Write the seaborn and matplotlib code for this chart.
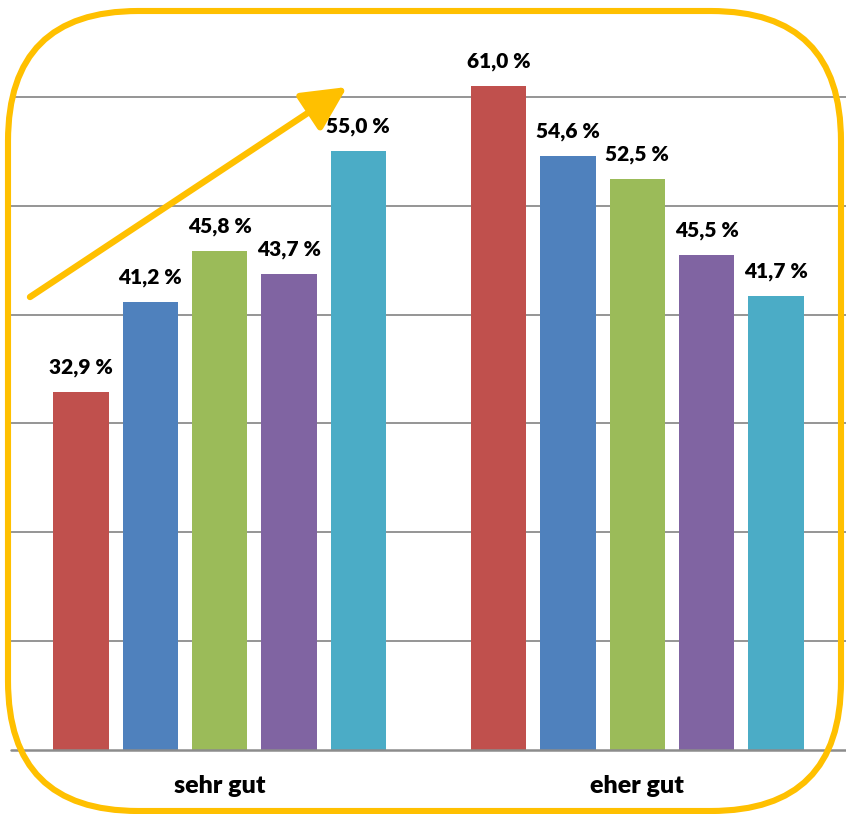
import matplotlib
matplotlib.use("Agg")
import matplotlib.pyplot as plt
import seaborn as sns
import pandas as pd
from matplotlib.patches import FancyBboxPatch
from matplotlib.transforms import IdentityTransform

categories = ["sehr gut", "eher gut"]
series = ["S1", "S2", "S3", "S4", "S5"]
values_sehr_gut = [32.9, 41.2, 45.8, 43.7, 55.0]
values_eher_gut = [61.0, 54.6, 52.5, 45.5, 41.7]
colors = ["#C0504D", "#4F81BD", "#9BBB59", "#8064A2", "#4BACC6"]
y_ticks = [0, 10, 20, 30, 40, 50, 60]

df = pd.DataFrame({
    "Kategorie": [categories[0]] * 5 + [categories[1]] * 5,
    "Serie": series * 2,
    "Wert": values_sehr_gut + values_eher_gut,
})

sns.set_theme(style="white")
plt.rcParams["font.family"] = ["Lato", "DejaVu Sans"]

W, H = 846, 814
fig = plt.figure(figsize=(W / 100, H / 100), dpi=100)
ax = fig.add_axes([11 / W, 64 / H, 835 / W, 750 / H])

sns.barplot(data=df, x="Kategorie", y="Wert", hue="Serie", order=categories,
            hue_order=series, palette=colors, width=0.83, gap=0.2,
            saturation=1, legend=False, ax=ax, edgecolor="none")

ax.set_xlim(-0.5, 1.5)
ax.set_ylim(0, 68.9)
ax.set_yticks(y_ticks)
ax.set_yticklabels([])
ax.tick_params(axis="y", length=0)
ax.tick_params(axis="x", length=0, pad=18)
ax.set_xlabel("")
ax.set_ylabel("")
for lbl in ax.get_xticklabels():
    lbl.set_fontweight("heavy")
    lbl.set_fontsize(18)
    lbl.set_color("black")
for s in ax.spines.values():
    s.set_visible(False)
ax.set_axisbelow(True)
for t in y_ticks[1:]:
    ax.axhline(t, color="#8C8C8C", lw=1.3, zorder=0)
ax.axhline(0, color="#8C8C8C", lw=1.8, zorder=3, clip_on=False)

for cont in ax.containers:
    for bar in cont:
        h = bar.get_height()
        ax.annotate(f"{h:.1f} %".replace(".", ","),
                    (bar.get_x() + bar.get_width() / 2, h),
                    xytext=(0, 15), textcoords="offset pixels",
                    ha="center", va="bottom", fontsize=15,
                    fontweight="heavy", color="black")

# rounded frame around the chart
frame = FancyBboxPatch((8, 3), 833, 800,
                       boxstyle="round,pad=0,rounding_size=130",
                       transform=IdentityTransform(), fill=False,
                       edgecolor="#FFC000", lw=4.4, zorder=10)
fig.add_artist(frame)

# rising trend arrow
ax.annotate("", xy=(347, H - 87), xycoords="figure pixels",
            xytext=(30, H - 297), textcoords="figure pixels",
            arrowprops=dict(arrowstyle="-|>,head_length=1.5,head_width=0.75",
                            color="#FFC000", lw=4.6, mutation_scale=18,
                            shrinkA=0, shrinkB=0))

fig.savefig("out.png", dpi=100)
